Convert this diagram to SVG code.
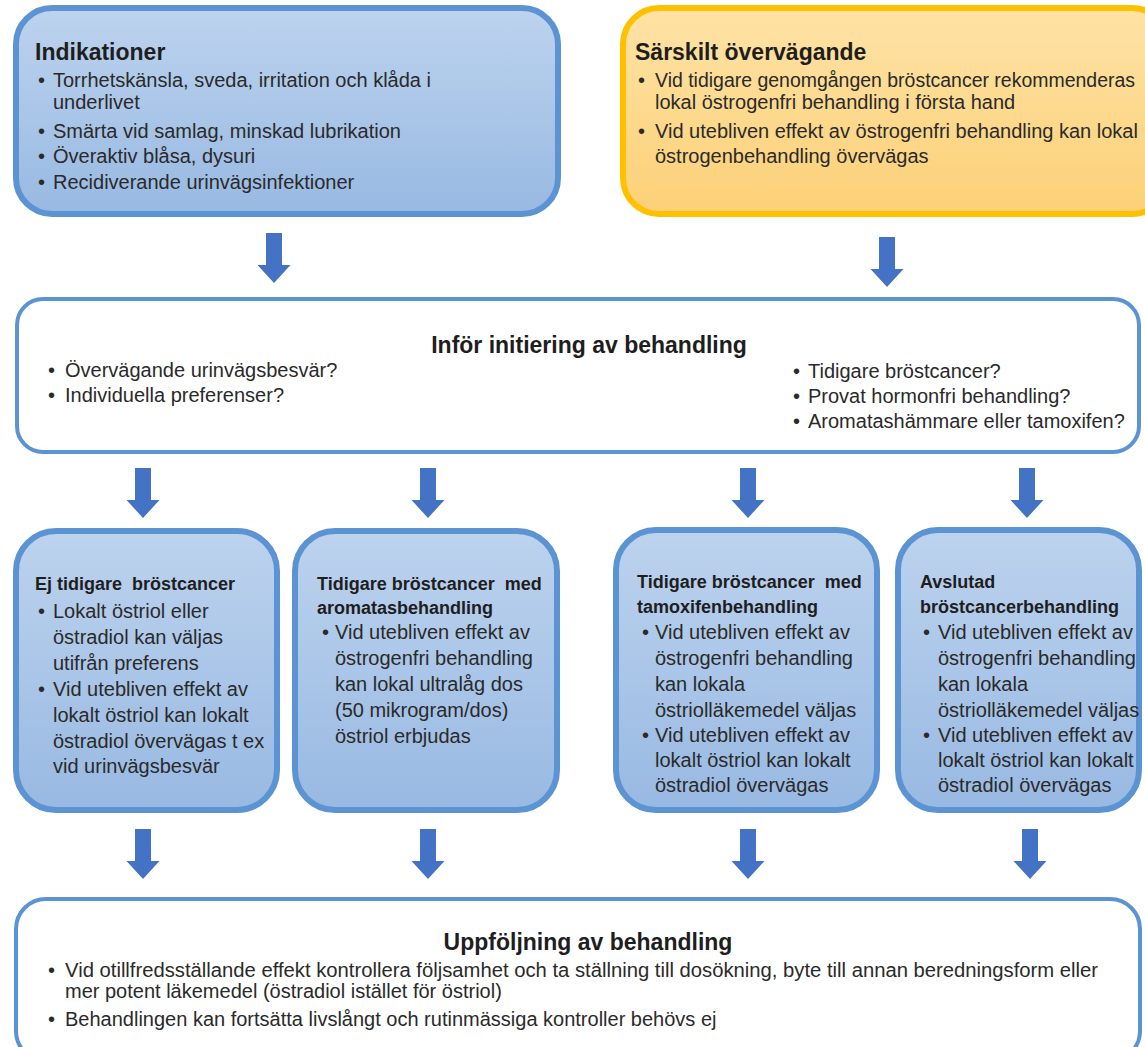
<svg xmlns="http://www.w3.org/2000/svg" width="1145" height="1047" viewBox="0 0 1145 1047">
<defs>
<linearGradient id="gBlue" x1="0" y1="0" x2="0" y2="1">
<stop offset="0" stop-color="#bdd3ee"/>
<stop offset="1" stop-color="#98b9e2"/>
</linearGradient>
<linearGradient id="gOrange" x1="0" y1="0" x2="0" y2="1">
<stop offset="0" stop-color="#fee3a6"/>
<stop offset="1" stop-color="#fcd077"/>
</linearGradient>
<path id="arr" d="M-8,0 H8 V32 H16.5 L0,50 L-16.5,32 H-8 Z"/>
<style>
.t{font-family:"Liberation Sans",Arial,sans-serif;font-size:20px;fill:#2a2a2a}
.h{font-family:"Liberation Sans",Arial,sans-serif;font-size:23px;font-weight:bold;fill:#1e1e1e}
.hs{font-family:"Liberation Sans",Arial,sans-serif;font-size:18px;font-weight:bold;fill:#1e1e1e}
.blue{fill:url(#gBlue);stroke:#5b93d3;stroke-width:6}
.orange{fill:url(#gOrange);stroke:#ffc000;stroke-width:6}
.white{fill:#ffffff;stroke:#5b93d3;stroke-width:4}
.a{fill:#4472c4}
</style>
</defs>
<rect width="1145" height="1047" fill="#ffffff"/>

<g id="indikationer">
<rect class="blue" x="16" y="8" width="542" height="206" rx="36"/>
<text class="h" x="35" y="60">Indikationer</text>
<text class="t" x="38" y="87">•</text><text class="t" x="53" y="87">Torrhetskänsla, sveda, irritation och klåda i</text>
<text class="t" x="53" y="109">underlivet</text>
<text class="t" x="38" y="138">•</text><text class="t" x="53" y="138">Smärta vid samlag, minskad lubrikation</text>
<text class="t" x="38" y="163">•</text><text class="t" x="53" y="163">Överaktiv blåsa, dysuri</text>
<text class="t" x="38" y="189">•</text><text class="t" x="53" y="189">Recidiverande urinvägsinfektioner</text>
</g>

<g id="sarskilt">
<rect class="orange" x="623" y="8" width="545" height="206" rx="36"/>
<text class="h" x="635" y="60">Särskilt övervägande</text>
<text class="t" x="638" y="87">•</text><text class="t" x="655" y="87" textLength="480" lengthAdjust="spacingAndGlyphs">Vid tidigare genomgången bröstcancer rekommenderas</text>
<text class="t" x="655" y="109">lokal östrogenfri behandling i första hand</text>
<text class="t" x="638" y="138">•</text><text class="t" x="655" y="138">Vid utebliven effekt av östrogenfri behandling kan lokal</text>
<text class="t" x="655" y="163">östrogenbehandling övervägas</text>
</g>

<g id="infor">
<rect class="white" x="17" y="299" width="1122" height="153" rx="26"/>
<text class="h" x="589" y="353" text-anchor="middle">Inför initiering av behandling</text>
<text class="t" x="48" y="377">•</text><text class="t" x="65" y="377">Övervägande urinvägsbesvär?</text>
<text class="t" x="48" y="402">•</text><text class="t" x="65" y="402">Individuella preferenser?</text>
<text class="t" x="793" y="378">•</text><text class="t" x="808" y="378">Tidigare bröstcancer?</text>
<text class="t" x="793" y="403">•</text><text class="t" x="808" y="403">Provat hormonfri behandling?</text>
<text class="t" x="793" y="428">•</text><text class="t" x="808" y="428">Aromatashämmare eller tamoxifen?</text>
</g>

<g id="ej-tidigare">
<rect class="blue" x="16" y="531" width="261" height="279" rx="40"/>
<text class="hs" x="35" y="590">Ej tidigare&#160; bröstcancer</text>
<text class="t" x="38" y="618">•</text><text class="t" x="53" y="618">Lokalt östriol eller</text>
<text class="t" x="53" y="644">östradiol kan väljas</text>
<text class="t" x="53" y="670">utifrån preferens</text>
<text class="t" x="38" y="696">•</text><text class="t" x="53" y="696">Vid utebliven effekt av</text>
<text class="t" x="53" y="722">lokalt östriol kan lokalt</text>
<text class="t" x="53" y="748">östradiol övervägas t ex</text>
<text class="t" x="53" y="773">vid urinvägsbesvär</text>
</g>

<g id="aromatas">
<rect class="blue" x="295" y="531" width="262" height="279" rx="40"/>
<text class="hs" x="317" y="590">Tidigare bröstcancer&#160; med</text>
<text class="hs" x="317" y="614">aromatasbehandling</text>
<text class="t" x="322" y="639">•</text><text class="t" x="335" y="639">Vid utebliven effekt av</text>
<text class="t" x="335" y="665">östrogenfri behandling</text>
<text class="t" x="335" y="691">kan lokal ultralåg dos</text>
<text class="t" x="335" y="717">(50 mikrogram/dos)</text>
<text class="t" x="335" y="743">östriol erbjudas</text>
</g>

<g id="tamoxifen">
<rect class="blue" x="616" y="530" width="261" height="280" rx="40"/>
<text class="hs" x="637" y="588">Tidigare bröstcancer&#160; med</text>
<text class="hs" x="637" y="613">tamoxifenbehandling</text>
<text class="t" x="642" y="639">•</text><text class="t" x="655" y="639">Vid utebliven effekt av</text>
<text class="t" x="655" y="665">östrogenfri behandling</text>
<text class="t" x="655" y="691">kan lokala</text>
<text class="t" x="655" y="717">östriolläkemedel väljas</text>
<text class="t" x="642" y="742">•</text><text class="t" x="655" y="742">Vid utebliven effekt av</text>
<text class="t" x="655" y="767">lokalt östriol kan lokalt</text>
<text class="t" x="655" y="792">östradiol övervägas</text>
</g>

<g id="avslutad">
<rect class="blue" x="898" y="530" width="241" height="280" rx="40"/>
<text class="hs" x="920" y="588">Avslutad</text>
<text class="hs" x="920" y="613">bröstcancerbehandling</text>
<text class="t" x="923" y="639">•</text><text class="t" x="938" y="639">Vid utebliven effekt av</text>
<text class="t" x="938" y="665">östrogenfri behandling</text>
<text class="t" x="938" y="691">kan lokala</text>
<text class="t" x="938" y="717">östriolläkemedel väljas</text>
<text class="t" x="923" y="742">•</text><text class="t" x="938" y="742">Vid utebliven effekt av</text>
<text class="t" x="938" y="767">lokalt östriol kan lokalt</text>
<text class="t" x="938" y="792">östradiol övervägas</text>
</g>

<g id="uppfoljning">
<rect class="white" x="16" y="899" width="1124" height="162" rx="30"/>
<text class="h" x="588" y="950" text-anchor="middle">Uppföljning av behandling</text>
<text class="t" x="48" y="977">•</text><text class="t" x="65" y="977" textLength="1033" lengthAdjust="spacingAndGlyphs">Vid otillfredsställande effekt kontrollera följsamhet och ta ställning till dosökning, byte till annan beredningsform eller</text>
<text class="t" x="65" y="998">mer potent läkemedel (östradiol istället för östriol)</text>
<text class="t" x="48" y="1026">•</text><text class="t" x="65" y="1026">Behandlingen kan fortsätta livslångt och rutinmässiga kontroller behövs ej</text>
</g>

<g id="connectors">
<use class="a" href="#arr" x="274" y="233"/>
<use class="a" href="#arr" x="887" y="237"/>
<use class="a" href="#arr" x="143" y="468"/>
<use class="a" href="#arr" x="428" y="468"/>
<use class="a" href="#arr" x="748" y="468"/>
<use class="a" href="#arr" x="1027" y="468"/>
<use class="a" href="#arr" x="143" y="829"/>
<use class="a" href="#arr" x="428" y="829"/>
<use class="a" href="#arr" x="748" y="829"/>
<use class="a" href="#arr" x="1030" y="829"/>
</g>
</svg>
